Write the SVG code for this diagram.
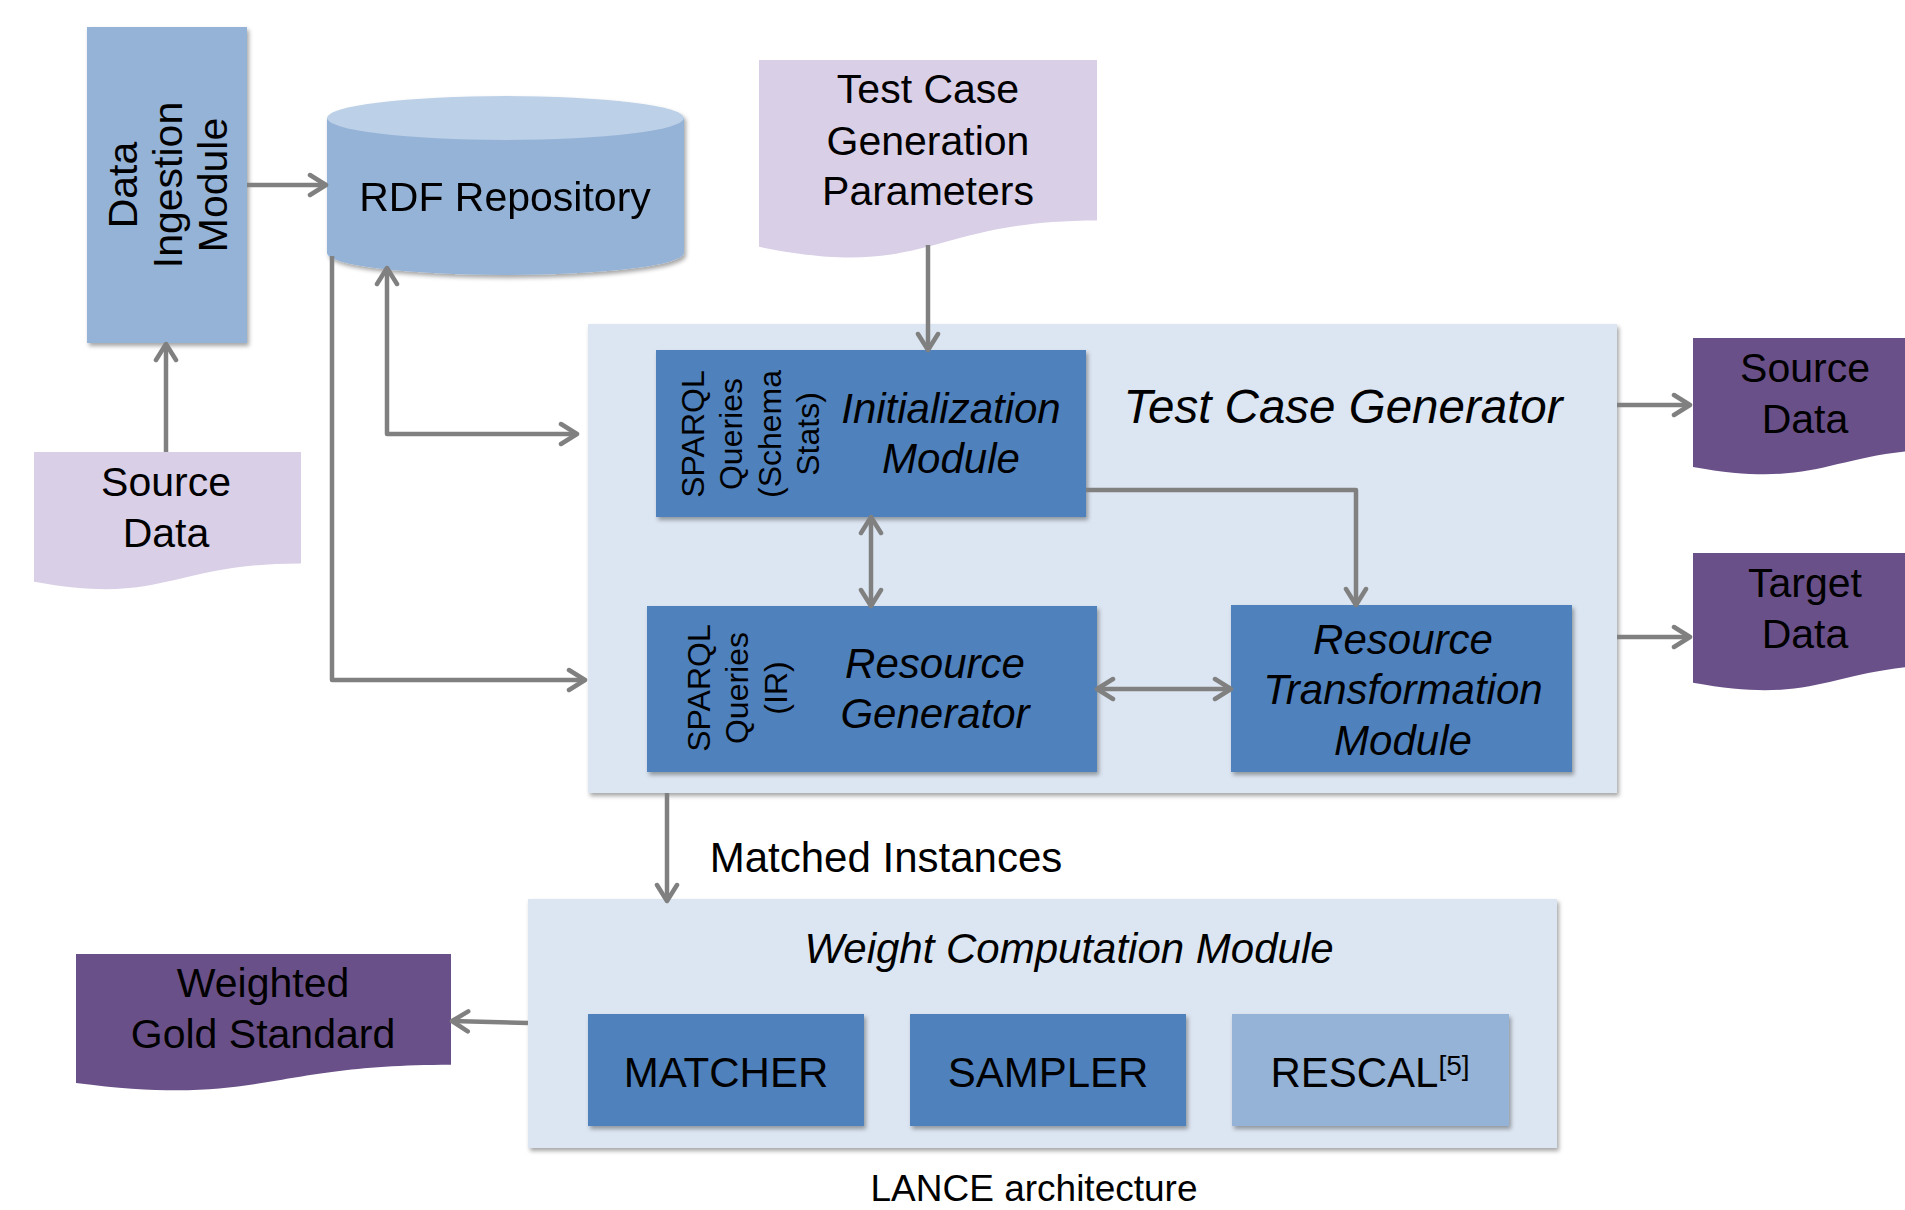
<svg xmlns="http://www.w3.org/2000/svg" width="1905" height="1210" viewBox="0 0 1905 1210">
  <style>
    text { font-family: "Liberation Sans", Arial, sans-serif; fill: #000; text-anchor: middle; }
    .t41 { font-size: 41px; }
    .t42 { font-size: 42px; }
    .it { font-style: italic; }
    .side { font-size: 32px; }
    .doc { fill: #d9cfe7; }
    .out { fill: #6a5088; }
    .mod { fill: #4f81bd; }
    .lite { fill: #95b3d7; }
    .box { fill: #dce6f2; }
    .conn { fill: none; stroke: #808080; stroke-width: 4.5; stroke-linejoin: round; }
  </style>
  <defs>
    <filter id="shadow" x="-10%" y="-10%" width="130%" height="130%">
      <feDropShadow dx="2" dy="3" stdDeviation="2" flood-color="#000" flood-opacity="0.35"/>
    </filter>
    <marker id="arrow" viewBox="0 0 22 26" refX="19" refY="13" markerWidth="22" markerHeight="26" markerUnits="userSpaceOnUse" orient="auto-start-reverse">
      <path d="M3,3 L19,13 L3,23" fill="none" stroke="#808080" stroke-width="4.5" stroke-linecap="round" stroke-linejoin="round"/>
    </marker>
  </defs>

  <rect width="1905" height="1210" fill="#fff"/>

  <!-- Data ingestion -->
  <g id="data-ingestion">
    <rect class="lite" x="87" y="27" width="160" height="316" filter="url(#shadow)"/>
    <text class="t41" transform="translate(137,185) rotate(-90)">Data</text>
    <text class="t41" transform="translate(182,185) rotate(-90)">Ingestion</text>
    <text class="t41" transform="translate(227,185) rotate(-90)">Module</text>
  </g>

  <!-- RDF repository cylinder -->
  <g id="rdf-repository" filter="url(#shadow)">
    <path class="lite" d="M327,118 V253 A178.5,22 0 0 0 684,253 V118 Z"/>
    <ellipse cx="505.5" cy="118" rx="178.5" ry="22" fill="#bcd0e7"/>
    <text class="t41" x="505" y="211">RDF Repository</text>
  </g>

  <!-- Input documents -->
  <g id="source-data-in">
    <path class="doc" d="M34,452 H301 V563.5 C167.5,563.5 167.5,605.9 34,581.8 Z"/>
    <text class="t41" x="166" y="496">Source</text>
    <text class="t41" x="166" y="547">Data</text>
  </g>

  <g id="test-case-params">
    <path class="doc" d="M759,60 H1097 V220.4 C928,220.4 928,281.5 759,246.8 Z"/>
    <text class="t41" x="928" y="103">Test Case</text>
    <text class="t41" x="928" y="155">Generation</text>
    <text class="t41" x="928" y="205">Parameters</text>
  </g>

  <!-- Test case generator -->
  <g id="test-case-generator">
    <rect class="box" x="588" y="324" width="1029" height="469" filter="url(#shadow)"/>
    <text class="it" x="1343" y="423" font-size="47.5">Test Case Generator</text>
  </g>

  <g id="initialization-module">
    <rect class="mod" x="656" y="350" width="430" height="167" filter="url(#shadow)"/>
    <text class="side" transform="translate(704,434) rotate(-90)">SPARQL</text>
    <text class="side" transform="translate(742,434) rotate(-90)">Queries</text>
    <text class="side" transform="translate(781,434) rotate(-90)">(Schema</text>
    <text class="side" transform="translate(819,434) rotate(-90)">Stats)</text>
    <text class="t42 it" x="951" y="423">Initialization</text>
    <text class="t42 it" x="951" y="473">Module</text>
  </g>

  <g id="resource-generator">
    <rect class="mod" x="647" y="606" width="450" height="166" filter="url(#shadow)"/>
    <text class="side" transform="translate(710,688) rotate(-90)">SPARQL</text>
    <text class="side" transform="translate(748,688) rotate(-90)">Queries</text>
    <text class="side" transform="translate(787,688) rotate(-90)">(IR)</text>
    <text class="t42 it" x="935" y="678">Resource</text>
    <text class="t42 it" x="935" y="728">Generator</text>
  </g>

  <g id="resource-transformation">
    <rect class="mod" x="1231" y="605" width="341" height="167" filter="url(#shadow)"/>
    <text class="t42 it" x="1403" y="654">Resource</text>
    <text class="t42 it" x="1403" y="704">Transformation</text>
    <text class="t42 it" x="1403" y="755">Module</text>
  </g>

  <!-- Output documents -->
  <g id="source-data-out">
    <path class="out" d="M1693,338 H1960 V448.7 C1826.5,448.7 1826.5,490.8 1693,466.9 Z"/>
    <text class="t41" x="1805" y="382">Source</text>
    <text class="t41" x="1805" y="433">Data</text>
  </g>

  <g id="target-data-out">
    <path class="out" d="M1693,553 H1960 V664.5 C1826.5,664.5 1826.5,706.9 1693,682.8 Z"/>
    <text class="t41" x="1805" y="597">Target</text>
    <text class="t41" x="1805" y="648">Data</text>
  </g>

  <!-- Weight computation -->
  <g id="weight-computation">
    <rect class="box" x="528" y="899" width="1029" height="249" filter="url(#shadow)"/>
    <text class="t42 it" x="1069" y="963">Weight Computation Module</text>
  </g>

  <g id="matcher">
    <rect class="mod" x="588" y="1014" width="276" height="112" filter="url(#shadow)"/>
    <text class="t42" x="726" y="1087">MATCHER</text>
  </g>

  <g id="sampler">
    <rect class="mod" x="910" y="1014" width="276" height="112" filter="url(#shadow)"/>
    <text class="t42" x="1048" y="1087">SAMPLER</text>
  </g>

  <g id="rescal">
    <rect class="lite" x="1232" y="1014" width="277" height="112" filter="url(#shadow)"/>
    <text class="t42" x="1370" y="1087">RESCAL<tspan font-size="28" dy="-12">[5]</tspan></text>
  </g>

  <g id="gold-standard">
    <path class="out" d="M76,954 H451 V1064.7 C263.5,1064.7 263.5,1106.8 76,1082.9 Z"/>
    <text class="t41" x="263" y="997">Weighted</text>
    <text class="t41" x="263" y="1048">Gold Standard</text>
  </g>

  <!-- Connectors -->
  <g id="connectors">
    <path class="conn" d="M247,185 H326" marker-end="url(#arrow)"/>
    <path class="conn" d="M166,452 V344" marker-end="url(#arrow)"/>
    <path class="conn" d="M387,268 V434 H577" marker-start="url(#arrow)" marker-end="url(#arrow)"/>
    <path class="conn" d="M332,256 V680 H585" marker-end="url(#arrow)"/>
    <path class="conn" d="M928,245 V350" marker-end="url(#arrow)"/>
    <path class="conn" d="M1086,490 H1356 V605" marker-end="url(#arrow)"/>
    <path class="conn" d="M871,517 V606" marker-start="url(#arrow)" marker-end="url(#arrow)"/>
    <path class="conn" d="M1097,689 H1231" marker-start="url(#arrow)" marker-end="url(#arrow)"/>
    <path class="conn" d="M1617,405 H1690" marker-end="url(#arrow)"/>
    <path class="conn" d="M1617,637 H1690" marker-end="url(#arrow)"/>
    <path class="conn" d="M667,793 V901" marker-end="url(#arrow)"/>
    <path class="conn" d="M528,1023 L452,1021" marker-end="url(#arrow)"/>
  </g>

  <!-- Labels -->
  <text class="t42" x="886" y="872">Matched Instances</text>
  <text x="1034" y="1201" font-size="37">LANCE architecture</text>
</svg>
